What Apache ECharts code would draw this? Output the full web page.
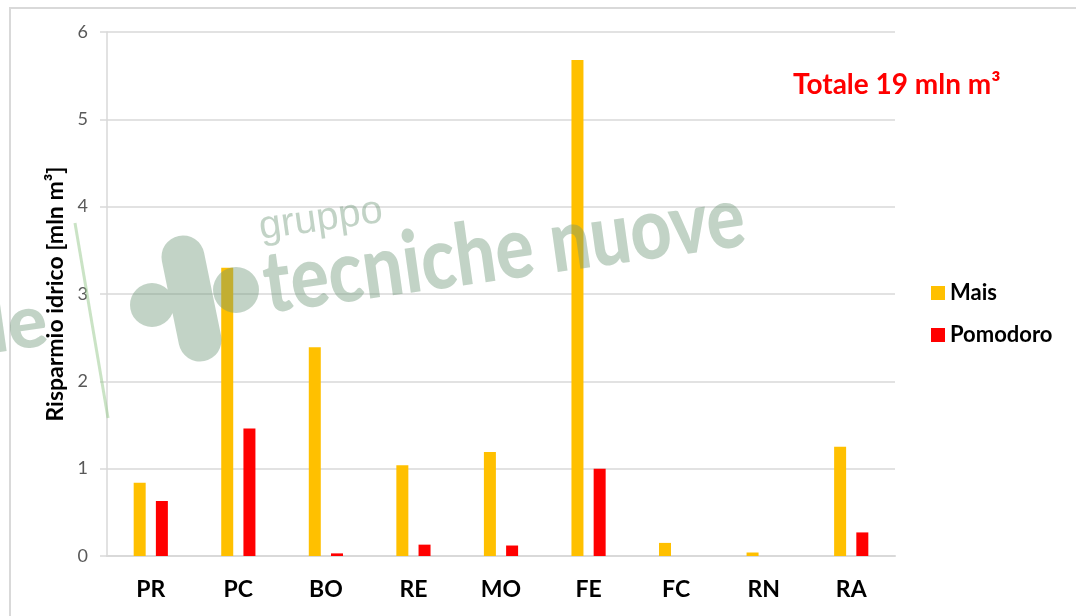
<!DOCTYPE html>
<html>
<head>
<meta charset="utf-8">
<script src="https://cdn.jsdelivr.net/npm/echarts@6/dist/echarts.min.js"></script>
<style>
html,body{margin:0;padding:0;background:#fff;}
#c{width:1076px;height:616px;}
</style>
</head>
<body>
<div id="c"></div>
<script>
var categories = ['PR','PC','BO','RE','MO','FE','FC','RN','RA'];
var mais = [0.84, 3.30, 2.39, 1.04, 1.19, 5.68, 0.15, 0.04, 1.25];
var pomodoro = [0.63, 1.46, 0.03, 0.13, 0.12, 1.00, 0, 0, 0.27];
var seriesNames = ['Mais','Pomodoro'];
var yTicks = {min:0, max:6, interval:1};
var yName = 'Risparmio idrico [mln m³]';
var note = 'Totale 19 mln m³';

var FONT = 'Lato, "Open Sans", sans-serif';
var wm = 'rgba(110,150,120,0.42)';
var logoPath =
  'M204.1 252.7 L221.1 335.7 A21.5 21.5 0 0 1 178.9 344.3 L161.9 261.3 A21.5 21.5 0 0 1 204.1 252.7 Z ' +
  'M130 305 a22 22 0 1 1 44 0 a22 22 0 1 1 -44 0 Z ' +
  'M213 290 a23 23 0 1 1 46 0 a23 23 0 1 1 -46 0 Z';
var hasLogo = false;
try {
  echarts.graphic.registerShape('wmLogo', echarts.graphic.extendPath(logoPath, {}));
  hasLogo = true;
} catch (err) { hasLogo = false; }

var graphics = [
  {type:'rect', shape:{x:10, y:8, width:1200, height:700}, style:{fill:'none', stroke:'#d9d9d9', lineWidth:2}, silent:true},
  {type:'text', left:793, top:71, style:{text:note, fill:'#ff0000', font:'bold 28px '+FONT}},
  {type:'text', x:262, y:248, rotation:0.14, z:100, style:{text:'gruppo', fill:wm, font:'40px "Liberation Sans", sans-serif', textVerticalAlign:'bottom'}},
  {type:'text', x:270, y:328, rotation:0.14, scaleX:0.83, z:100, style:{text:'tecniche nuove', fill:wm, font:'900 86px Lato, "Liberation Sans", sans-serif', textVerticalAlign:'bottom'}},
  {type:'text', x:-6, y:366, rotation:0.14, z:100, style:{text:'le', fill:wm, font:'900 74px Lato, "Liberation Sans", sans-serif', textVerticalAlign:'bottom'}},
  {type:'line', z:100, shape:{x1:75, y1:223, x2:108, y2:418}, style:{stroke:'rgba(150,200,140,0.5)', lineWidth:3}}
];
if (hasLogo) {
  graphics.push({type:'wmLogo', z:100, style:{fill:wm}});
} else {
  graphics.push({type:'circle', z:100, shape:{cx:152, cy:305, r:22}, style:{fill:wm}});
}

var chart = echarts.init(document.getElementById('c'));
chart.setOption({
  backgroundColor:'#fff',
  animation:false,
  textStyle:{fontFamily:FONT},
  grid:{left:107, right:181, top:32, bottom:60, containLabel:false},
  legend:{
    orient:'vertical', left:926, top:277, itemWidth:14, itemHeight:14, itemGap:20,
    icon:'rect',
    textStyle:{fontSize:22, fontWeight:'bold', color:'#000', fontFamily:FONT},
    data:seriesNames
  },
  xAxis:{
    type:'category', data:categories,
    axisLine:{lineStyle:{color:'#d9d9d9', width:2}},
    axisTick:{show:false},
    axisLabel:{margin:22, fontSize:23, fontWeight:'bold', color:'#000', fontFamily:FONT}
  },
  yAxis:{
    type:'value', min:yTicks.min, max:yTicks.max, interval:yTicks.interval,
    name:yName, nameLocation:'middle', nameGap:40, nameRotate:90,
    nameTextStyle:{fontSize:23, fontWeight:'bold', color:'#000', fontFamily:FONT},
    axisLine:{show:true, lineStyle:{color:'#d9d9d9', width:1.5}},
    axisTick:{show:true, length:7, lineStyle:{color:'#d9d9d9', width:1.5}},
    axisLabel:{margin:19, fontSize:18, color:'#595959', fontFamily:FONT},
    splitLine:{lineStyle:{color:'#d9d9d9', width:1.5}}
  },
  series:[
    {name:seriesNames[0], type:'bar', data:mais, barWidth:12, barGap:'85%', itemStyle:{color:'#ffc000'}},
    {name:seriesNames[1], type:'bar', data:pomodoro, barWidth:12, itemStyle:{color:'#ff0000'}}
  ],
  graphic:graphics
});
</script>
</body>
</html>
